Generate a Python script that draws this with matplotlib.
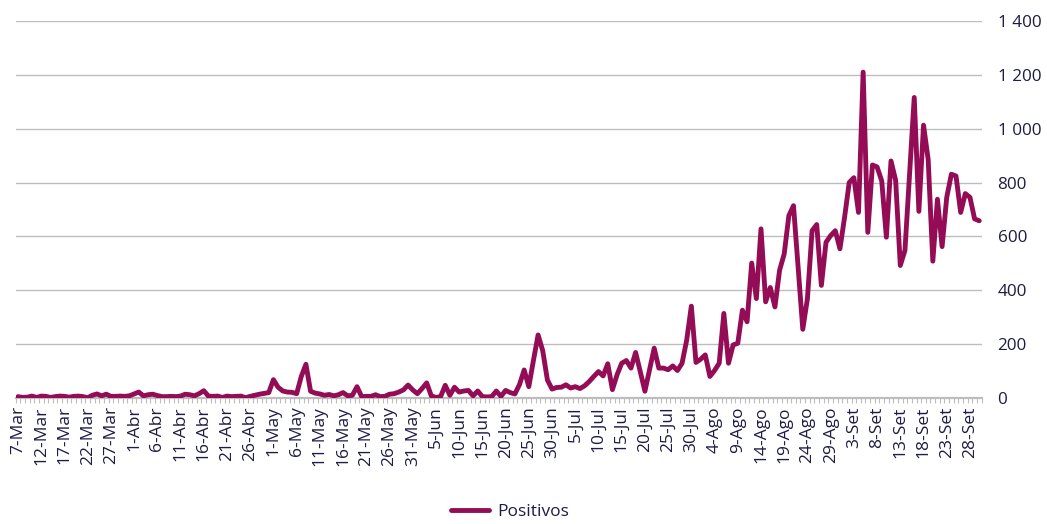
import numpy as np
import matplotlib
matplotlib.use("Agg")
import matplotlib.pyplot as plt
from matplotlib.ticker import FixedLocator, FuncFormatter

plt.rcParams["font.family"] = ["Open Sans", "DejaVu Sans"]

# ---- palette ----
LINE = "#930C55"
INK = "#1C1C44"
GRID = "#BDBDBD"

# ---- data: daily positives, 7-Mar .. 30-Set ----
positivos = [
    5, 2, 3, 7, 2, 7, 6, 2, 5, 7,
    6, 3, 6, 7, 5, 1, 10, 15, 8, 14,
    6, 6, 7, 6, 8, 15, 22, 8, 12, 14,
    9, 5, 5, 6, 5, 7, 14, 12, 8, 16,
    27, 7, 6, 7, 2, 7, 5, 6, 7, 1,
    6, 10, 14, 17, 20, 68, 40, 26, 22, 21,
    16, 80, 125, 25, 18, 15, 10, 13, 8, 12,
    20, 8, 10, 42, 5, 6, 6, 12, 5, 6,
    14, 16, 22, 30, 48, 30, 16, 35, 56, 8,
    2, 5, 47, 10, 40, 22, 26, 28, 8, 26,
    5, 4, 5, 26, 6, 28, 20, 15, 50, 104,
    42, 140, 234, 175, 67, 33, 39, 40, 49, 37,
    42, 35, 45, 61, 80, 98, 82, 127, 31, 86,
    129, 139, 111, 169, 98, 25, 105, 185, 111, 111,
    105, 119, 102, 129, 215, 341, 132, 144, 160, 80,
    102, 129, 314, 129, 197, 203, 326, 283, 501, 369,
    628, 357, 410, 338, 474, 535, 677, 714, 485, 255,
    369, 621, 644, 418, 578, 603, 621, 554, 671, 800,
    818, 689, 1210, 615, 865, 858, 806, 597, 880, 808,
    492, 548, 830, 1116, 693, 1013, 886, 508, 738, 562,
    745, 831, 824, 689, 759, 745, 665, 658,
]

tick_labels = [
    "7-Mar", "12-Mar", "17-Mar", "22-Mar", "27-Mar",
    "1-Abr", "6-Abr", "11-Abr", "16-Abr", "21-Abr", "26-Abr",
    "1-May", "6-May", "11-May", "16-May", "21-May", "26-May", "31-May",
    "5-Jun", "10-Jun", "15-Jun", "20-Jun", "25-Jun", "30-Jun",
    "5-Jul", "10-Jul", "15-Jul", "20-Jul", "25-Jul", "30-Jul",
    "4-Ago", "9-Ago", "14-Ago", "19-Ago", "24-Ago", "29-Ago",
    "3-Set", "8-Set", "13-Set", "18-Set", "23-Set", "28-Set",
]
y_ticks = [0, 200, 400, 600, 800, 1000, 1200, 1400]

n = len(positivos)
x = np.arange(n)

fig = plt.figure(figsize=(10.47, 5.24), dpi=100)
fig.patch.set_facecolor("white")
ax = fig.add_axes([0.015, 0.2405, 0.9225, 0.7195])

ax.plot(x, positivos, color=LINE, lw=3.5, solid_joinstyle="round",
        solid_capstyle="round", label="Positivos", zorder=3)

ax.set_xlim(-0.5, n - 0.5)
ax.set_ylim(0, 1400)

# y axis on the right, gridlines only
ax.yaxis.tick_right()
ax.set_yticks(y_ticks)
ax.yaxis.set_major_formatter(FuncFormatter(lambda v, p: f"{int(v):,}".replace(",", " ")))
ax.tick_params(axis="y", length=0, pad=11.5, labelsize=12.3, labelcolor=INK)
ax.grid(axis="y", color=GRID, lw=1.0, zorder=0)

# category axis: label every 5 days, small tick per day
ax.xaxis.set_major_locator(FixedLocator(np.arange(0, n, 5)[:len(tick_labels)]))
ax.set_xticklabels(tick_labels, rotation=90)
ax.xaxis.set_minor_locator(FixedLocator(np.arange(-0.5, n, 1)))
ax.tick_params(axis="x", which="major", length=0, pad=6, labelsize=12.5, labelcolor=INK)
ax.tick_params(axis="x", which="minor", length=3.5, width=0.8, color=GRID)

for s in ["top", "left", "right"]:
    ax.spines[s].set_visible(False)
ax.spines["bottom"].set_color(GRID)
ax.spines["bottom"].set_linewidth(1.6)

fig.legend(loc="lower center", bbox_to_anchor=(0.487, -0.022), frameon=False,
           handlelength=2.2, handletextpad=0.5, fontsize=12.5, labelcolor=INK)

fig.savefig("out.png", dpi=100, facecolor="white")
